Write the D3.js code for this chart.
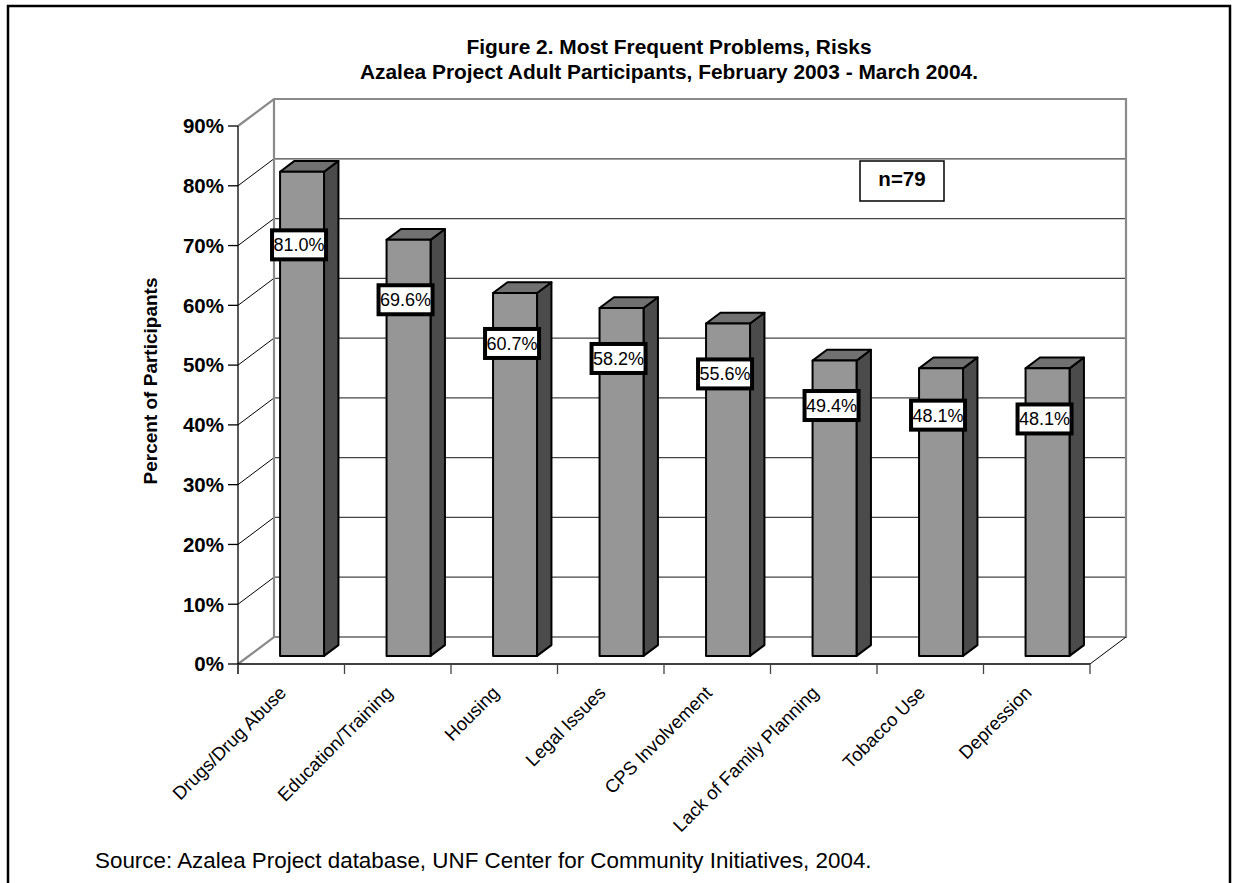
<!DOCTYPE html>
<html>
<head>
<meta charset="utf-8">
<script src="https://cdn.jsdelivr.net/npm/d3@7"></script>
<style>
  html, body { margin: 0; padding: 0; background: #fff; }
  svg { display: block; }
  text { font-family: "Liberation Sans", Arial, Helvetica, sans-serif; }
</style>
</head>
<body>
<svg id="chart" width="1238" height="883"></svg>
<script>
// ---- data ----
const categories = ["Drugs/Drug Abuse", "Education/Training", "Housing", "Legal Issues",
  "CPS Involvement", "Lack of Family Planning", "Tobacco Use", "Depression"];
const values = [81.0, 69.6, 60.7, 58.2, 55.6, 49.4, 48.1, 48.1];
const yTicks = [0, 10, 20, 30, 40, 50, 60, 70, 80, 90];
const titleLines = ["Figure 2. Most Frequent Problems, Risks",
  "Azalea Project Adult Participants, February 2003 - March 2004."];
const yTitle = "Percent of Participants";
const note = "n=79";
const source = "Source: Azalea Project database, UNF Center for Community Initiatives, 2004.";

(function () {
// ---- layout ----
const svg = d3.select("#chart");
const pLeft = 238, pRight = 1090, pBottom = 664, pTop = 126;
const DX = 36, DY = -27;          // depth vector of the 3D box
const z0 = 0.3, z1 = 0.7;         // bar depth range

const x = d3.scaleBand().domain(categories).range([pLeft, pRight])
  .paddingInner(0.587).paddingOuter(0.2935);
const y = d3.scaleLinear().domain([0, 90]).range([pBottom, pTop]);
const P = (px, v, z) => [px + DX * z, y(v) + DY * z];
const pts = arr => arr.map(p => p.join(",")).join(" ");

// outer frame
svg.append("rect").attr("x", 8).attr("y", 6).attr("width", 1222).attr("height", 900)
  .attr("fill", "none").attr("stroke", "#000").attr("stroke-width", 2.5);

// title
svg.append("g").selectAll("text").data(titleLines).join("text")
  .attr("x", 669).attr("y", (d, i) => 54 + i * 25)
  .attr("text-anchor", "middle").attr("font-weight", "bold").attr("font-size", 20.9)
  .text(d => d);

const grid = svg.append("g");
const inner = yTicks.filter(t => t > 0 && t < 90);
grid.selectAll("line.bg").data(inner).join("line").attr("class", "bg")
  .attr("x1", pLeft + DX).attr("x2", pRight + DX)
  .attr("y1", d => y(d) + DY).attr("y2", d => y(d) + DY)
  .attr("stroke", "#444").attr("stroke-width", 1.2);
grid.selectAll("line.lw").data(inner).join("line").attr("class", "lw")
  .attr("x1", pLeft).attr("x2", pLeft + DX)
  .attr("y1", d => y(d)).attr("y2", d => y(d) + DY)
  .attr("stroke", "#000").attr("stroke-width", 1);
const [bl0x, bl0y] = P(pLeft, 0, 1), [br0x, br0y] = P(pRight, 0, 1);
const [bl9x, bl9y] = P(pLeft, 90, 1), [br9x, br9y] = P(pRight, 90, 1);
grid.append("polyline")
  .attr("points", pts([[pLeft, y(90)], [bl9x, bl9y], [br9x, br9y], [br0x, br0y], [bl0x, bl0y], [pLeft, y(0)]]))
  .attr("fill", "none").attr("stroke", "#8a8a8a").attr("stroke-width", 2.2);
grid.append("line").attr("x1", bl9x).attr("y1", bl9y).attr("x2", bl0x).attr("y2", bl0y)
  .attr("stroke", "#8a8a8a").attr("stroke-width", 2.2);
grid.append("line").attr("x1", pRight).attr("y1", y(0)).attr("x2", br0x).attr("y2", br0y)
  .attr("stroke", "#000").attr("stroke-width", 1);

// y axis
const yAxis = svg.append("g");
yAxis.append("line").attr("x1", pLeft).attr("x2", pLeft).attr("y1", y(90)).attr("y2", y(0) + 10)
  .attr("stroke", "#000").attr("stroke-width", 1.3);
yAxis.selectAll("line.t").data(yTicks).join("line").attr("class", "t")
  .attr("x1", pLeft - 10).attr("x2", pLeft).attr("y1", d => y(d)).attr("y2", d => y(d))
  .attr("stroke", "#000").attr("stroke-width", 1.3);
yAxis.selectAll("text").data(yTicks).join("text")
  .attr("x", pLeft - 14).attr("y", d => y(d)).attr("dy", "0.36em")
  .attr("text-anchor", "end").attr("font-weight", "bold").attr("font-size", 20.5)
  .text(d => d + "%");

// x axis
const xAxis = svg.append("g");
xAxis.append("line").attr("x1", pLeft).attr("x2", pRight).attr("y1", y(0)).attr("y2", y(0))
  .attr("stroke", "#000").attr("stroke-width", 1.3);
const tickXs = d3.range(categories.length + 1).map(i => pLeft + i * x.step());
xAxis.selectAll("line.t").data(tickXs).join("line").attr("class", "t")
  .attr("x1", d => d).attr("x2", d => d).attr("y1", y(0)).attr("y2", y(0) + 10)
  .attr("stroke", "#444").attr("stroke-width", 1.3);
xAxis.selectAll("text").data(categories).join("text")
  .attr("transform", d => `translate(${x(d) + x.bandwidth() / 2 - 4},${y(0) + 30}) rotate(-45)`)
  .attr("text-anchor", "end").attr("font-size", 18.5)
  .text(d => d);

// bars
const bars = svg.append("g").selectAll("g").data(categories).join("g");
bars.each(function (c, i) {
  const g = d3.select(this);
  const v = values[i];
  const x0 = x(c), x1 = x(c) + x.bandwidth();
  g.append("polygon").attr("points", pts([P(x1, 0, z0), P(x1, 0, z1), P(x1, v, z1), P(x1, v, z0)]))
    .attr("fill", "#4b4b4b").attr("stroke", "#000").attr("stroke-width", 2).attr("stroke-linejoin", "round");
  g.append("polygon").attr("points", pts([P(x0, v, z0), P(x1, v, z0), P(x1, v, z1), P(x0, v, z1)]))
    .attr("fill", "#717171").attr("stroke", "#000").attr("stroke-width", 2).attr("stroke-linejoin", "round");
  g.append("polygon").attr("points", pts([P(x0, 0, z0), P(x1, 0, z0), P(x1, v, z0), P(x0, v, z0)]))
    .attr("fill", "#969696").attr("stroke", "#000").attr("stroke-width", 2).attr("stroke-linejoin", "round");
});

// value labels
const labels = svg.append("g").selectAll("g").data(categories).join("g")
  .attr("transform", (c, i) => {
    const cx = x(c) + x.bandwidth() / 2 + DX * z0 - 3;
    const cy = y(0.75 * values[i]) - 56 + 3.8 * i;
    return `translate(${cx},${cy})`;
  });
labels.append("rect").attr("x", -27).attr("y", -14.5).attr("width", 54).attr("height", 29)
  .attr("fill", "#fff").attr("stroke", "#000").attr("stroke-width", 4);
labels.append("text").attr("text-anchor", "middle").attr("dy", "0.36em")
  .attr("font-size", 18).text((c, i) => values[i].toFixed(1) + "%");

// n note
const ng = svg.append("g").attr("transform", "translate(902,181)");
ng.append("rect").attr("x", -42).attr("y", -20).attr("width", 84).attr("height", 40)
  .attr("fill", "#fff").attr("stroke", "#000").attr("stroke-width", 1.5);
ng.append("text").attr("text-anchor", "middle").attr("dy", "0.36em").attr("y", -2)
  .attr("font-weight", "bold").attr("font-size", 20.5).text(note);

// y title
svg.append("text").attr("transform", "translate(157,381) rotate(-90)")
  .attr("text-anchor", "middle").attr("font-weight", "bold").attr("font-size", 19)
  .text(yTitle);

// source
svg.append("text").attr("x", 95).attr("y", 868).attr("font-size", 22.4).text(source);
})();
</script>
</body>
</html>
